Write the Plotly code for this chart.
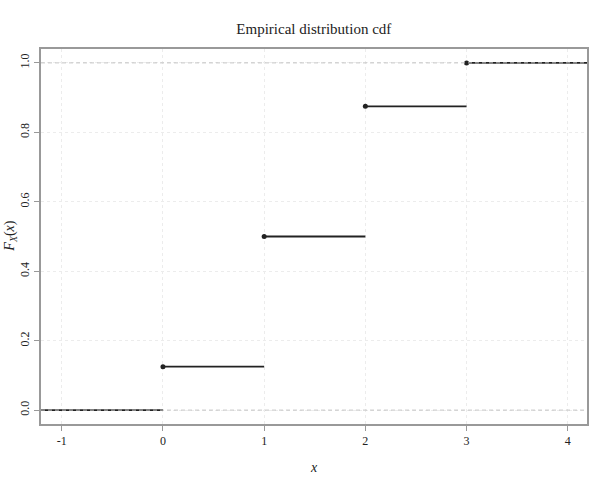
import plotly.graph_objects as go

# Data: empirical CDF of sample {0,1,1,1,2,2,2,3}
knots = [0, 1, 2, 3]
cdf_vals = [0.125, 0.5, 0.875, 1.0]
x_ticks = [-1, 0, 1, 2, 3, 4]
x_tick_labels = ["-1", "0", "1", "2", "3", "4"]
y_ticks = [0.0, 0.2, 0.4, 0.6, 0.8, 1.0]
y_tick_labels = ["0.0", "0.2", "0.4", "0.6", "0.8", "1.0"]
title_text = "Empirical distribution cdf"

x_range = [-1.205, 4.19]
y_range = [-0.04, 1.04]

FONT = "Liberation Serif"
fig = go.Figure()

# left segment (value 0 before first knot)
fig.add_trace(go.Scatter(x=[x_range[0], knots[0]], y=[0, 0], mode="lines",
                         line=dict(color="#222", width=1.8), hoverinfo="skip"))
# steps
ends = knots[1:] + [x_range[1]]
for k, e, v in zip(knots, ends, cdf_vals):
    fig.add_trace(go.Scatter(x=[k, e], y=[v, v], mode="lines",
                             line=dict(color="#222", width=1.8), hoverinfo="skip"))
fig.add_trace(go.Scatter(x=knots, y=cdf_vals, mode="markers",
                         marker=dict(color="#222", size=5), hoverinfo="skip"))

# dashed reference lines at 0 and 1
for h in [0, 1]:
    fig.add_shape(type="line", xref="paper", yref="y", x0=0, x1=1, y0=h, y1=h,
                  line=dict(color="#c4c4c4", width=1, dash="4px,3px"), layer="above")

fig.update_layout(
    width=607, height=478,
    margin=dict(l=41, r=20, t=49, b=54),
    paper_bgcolor="white", plot_bgcolor="white",
    showlegend=False,
    font=dict(family=FONT, color="#222", size=12),
    title=dict(text=title_text, x=0.517, xanchor="center", y=0.94, yanchor="middle",
               font=dict(family=FONT, size=15, color="#222")),
)
fig.update_xaxes(range=x_range, tickvals=x_ticks, ticktext=x_tick_labels,
                 showline=True, linecolor="#999", linewidth=1.5, mirror=True,
                 ticks="outside", ticklen=5, tickcolor="#999",
                 showgrid=True, gridcolor="#ececec", griddash="dot", gridwidth=1,
                 zeroline=False, automargin=False)
fig.update_yaxes(range=y_range, tickvals=y_ticks, ticktext=y_tick_labels,
                 tickangle=-90,
                 showline=True, linecolor="#999", linewidth=1.5, mirror=True,
                 ticks="outside", ticklen=5, tickcolor="#999",
                 showgrid=True, gridcolor="#ececec", griddash="dot", gridwidth=1,
                 zeroline=False, automargin=False)

# axis titles
fig.add_annotation(text="<i>x</i>", xref="paper", yref="paper",
                   x=0.5, y=-0.115, xanchor="center", yanchor="middle",
                   showarrow=False, font=dict(family=FONT, size=14, color="#222"))
fig.add_annotation(text="<i>F</i><sub><i>X</i></sub>(<i>x</i>)", xref="paper", yref="paper",
                   x=-0.0565, y=0.5, xanchor="center", yanchor="middle", textangle=-90,
                   showarrow=False, font=dict(family=FONT, size=14, color="#222"))

fig.write_html("out.html", config={"displayModeBar": False},
               post_script="document.body.style.margin='0';")
